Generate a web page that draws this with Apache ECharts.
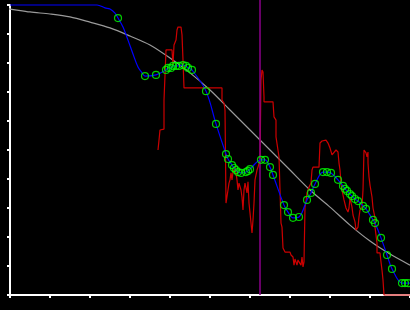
<!DOCTYPE html>
<html>
<head>
<meta charset="utf-8">
<script src="https://cdn.jsdelivr.net/npm/echarts@6/dist/echarts.min.js"></script>
<style>html,body{margin:0;padding:0;background:#000;}#c{width:410px;height:310px;}</style>
</head>
<body>
<div id="c"></div>
<script>
// Gray smooth reference curve
const grayX = [-0.25,0,0.5,1.0,1.5,2.0,2.5,3.0,3.5,4.0,4.5,5.0,5.5,6.0,6.5,7.0,7.5,8.0,8.5,9.0,9.5,10];
const grayY = [9.90,9.86,9.76,9.69,9.59,9.41,9.21,8.93,8.62,8.17,7.66,7.07,6.38,5.69,5.00,4.31,3.62,3.03,2.41,1.86,1.41,1.03];

// Red noisy series
const redX = [3.70,3.725,3.75,3.85,3.85,3.90,4.05,4.075,4.10,4.15,4.175,4.20,4.275,4.30,4.325,4.35,5.30,5.30,5.35,5.375,5.40,5.425,5.45,5.475,5.50,5.525,5.55,5.575,5.625,5.65,5.675,5.70,5.725,5.775,5.80,5.825,5.85,5.875,5.925,5.95,5.975,6.00,6.05,6.075,6.10,6.125,6.175,6.20,6.25,6.275,6.30,6.325,6.35,6.35,6.575,6.60,6.65,6.65,6.70,6.725,6.775,6.775,6.80,6.825,6.875,7.00,7.025,7.075,7.10,7.125,7.175,7.20,7.225,7.275,7.30,7.325,7.35,7.375,7.40,7.425,7.475,7.525,7.55,7.575,7.725,7.75,7.80,7.90,7.95,8.00,8.05,8.10,8.15,8.20,8.225,8.25,8.275,8.30,8.35,8.40,8.45,8.475,8.50,8.55,8.575,8.625,8.65,8.70,8.725,8.75,8.80,8.825,8.85,8.90,8.925,8.95,8.95,8.975,9.00,9.05,9.075,9.125,9.125,9.175,9.175,9.25,9.275,9.30,9.325,9.35,10];
const redY = [5.00,5.34,5.69,5.72,6.72,8.45,8.45,7.93,8.62,8.79,9.14,9.24,9.24,8.97,8.10,7.14,7.14,6.72,6.62,6.38,3.17,3.21,3.62,3.86,3.97,4.21,3.97,4.24,4.41,4.21,3.97,3.62,3.86,3.62,3.38,2.93,3.62,3.86,3.52,3.90,3.17,2.83,2.14,2.59,3.17,3.97,4.31,4.41,4.66,7.41,7.76,7.69,6.83,6.66,6.66,6.14,6.03,5.45,5.45,4.76,4.76,2.48,2.34,1.62,1.48,1.48,1.38,1.31,1.03,1.24,1.03,1.21,1.14,1.03,1.31,0.97,1.14,3.03,3.21,3.52,3.72,3.86,4.31,4.41,4.41,5.24,5.31,5.34,5.24,5.07,4.83,4.83,5.00,4.93,4.55,4.31,3.86,3.62,3.28,3.00,2.86,3.00,3.34,3.03,2.76,2.52,2.24,2.34,2.69,2.93,3.03,3.62,5.00,4.90,4.76,4.93,4.55,4.07,3.79,3.38,3.00,2.66,2.34,1.79,1.45,1.45,1.14,0.86,0.52,0,0];

// Blue fitted curve
const blueX = [0,2.175,2.375,2.50,2.625,2.70,2.825,2.95,3.075,3.20,3.30,3.375,3.65,3.90,3.95,4.025,4.075,4.15,4.225,4.325,4.40,4.45,4.55,4.90,5.15,5.40,5.45,5.55,5.60,5.65,5.70,5.775,5.90,5.95,6.00,6.275,6.375,6.50,6.575,6.85,6.95,7.075,7.225,7.425,7.525,7.625,7.825,7.925,8.025,8.20,8.325,8.375,8.425,8.50,8.55,8.625,8.70,8.825,8.90,9.075,9.125,9.275,9.425,9.55,9.80,9.875,9.95,10];
const blueY = [10,10,9.90,9.86,9.72,9.55,9.24,8.79,8.31,7.86,7.66,7.55,7.59,7.76,7.83,7.83,7.90,7.90,7.90,7.93,7.90,7.83,7.76,7.03,5.90,4.86,4.69,4.48,4.38,4.31,4.24,4.21,4.24,4.28,4.34,4.66,4.66,4.41,4.14,3.10,2.86,2.66,2.69,3.28,3.52,3.83,4.24,4.24,4.21,3.97,3.76,3.66,3.59,3.48,3.41,3.31,3.24,3.07,2.97,2.59,2.48,1.97,1.38,0.90,0.41,0.41,0.41,0.41];

// Green sample markers
const markX = [2.70,3.375,3.65,3.90,3.95,4.025,4.075,4.15,4.225,4.325,4.40,4.45,4.55,4.90,5.15,5.40,5.45,5.55,5.60,5.65,5.70,5.775,5.90,5.95,6.00,6.275,6.375,6.50,6.575,6.85,6.95,7.075,7.225,7.425,7.525,7.625,7.825,7.925,8.025,8.20,8.325,8.375,8.425,8.50,8.55,8.625,8.70,8.825,8.90,9.075,9.125,9.275,9.425,9.55,9.80,9.875,9.95];
const markY = [9.55,7.55,7.59,7.76,7.83,7.83,7.90,7.90,7.90,7.93,7.90,7.83,7.76,7.03,5.90,4.86,4.69,4.48,4.38,4.31,4.24,4.21,4.24,4.28,4.34,4.66,4.66,4.41,4.14,3.10,2.86,2.66,2.69,3.28,3.52,3.83,4.24,4.24,4.21,3.97,3.76,3.66,3.59,3.48,3.41,3.31,3.24,3.07,2.97,2.59,2.48,1.97,1.38,0.90,0.41,0.41,0.41];

// Vertical marker line
const vlineX = 6.25;
const vlineY = [0, 10.17];

const zip = (xs, ys) => xs.map((x, i) => [x, ys[i]]);

const chart = echarts.init(document.getElementById('c'), null, {renderer: 'canvas'});
const axisCommon = {
  type: 'value', min: 0, max: 10, interval: 1,
  axisLine: {show: true, onZero: false, lineStyle: {color: '#ffffff', width: 2}},
  axisTick: {show: true, inside: false, length: 3, lineStyle: {color: '#ffffff', width: 2}},
  axisLabel: {show: false},
  splitLine: {show: false}
};
chart.setOption({
  backgroundColor: '#000000',
  animation: false,
  grid: {left: 10, top: 5, width: 400, height: 290},
  xAxis: Object.assign({}, axisCommon),
  yAxis: Object.assign({}, axisCommon),
  series: [
    {type: 'line', data: zip(grayX, grayY), smooth: 0.3, showSymbol: false, clip: false,
     lineStyle: {color: '#9a9a9a', width: 1.2}, z: 2},
    {type: 'line', data: zip(redX, redY), showSymbol: false, clip: false,
     lineStyle: {color: '#cc0000', width: 1.2}, z: 3},
    {type: 'line', data: [[vlineX, vlineY[0]], [vlineX, vlineY[1]]], showSymbol: false, clip: false,
     lineStyle: {color: '#8b008b', width: 1.5}, z: 4},
    {type: 'line', data: zip(blueX, blueY), smooth: 0.35, showSymbol: false, clip: false,
     lineStyle: {color: '#0000ff', width: 1.2}, z: 5},
    {type: 'scatter', data: zip(markX, markY), symbol: 'circle', symbolSize: 7, clip: false,
     itemStyle: {color: 'rgba(0,0,0,0)', borderColor: '#00ff00', borderWidth: 1.2}, z: 6}
  ]
});
</script>
</body>
</html>
